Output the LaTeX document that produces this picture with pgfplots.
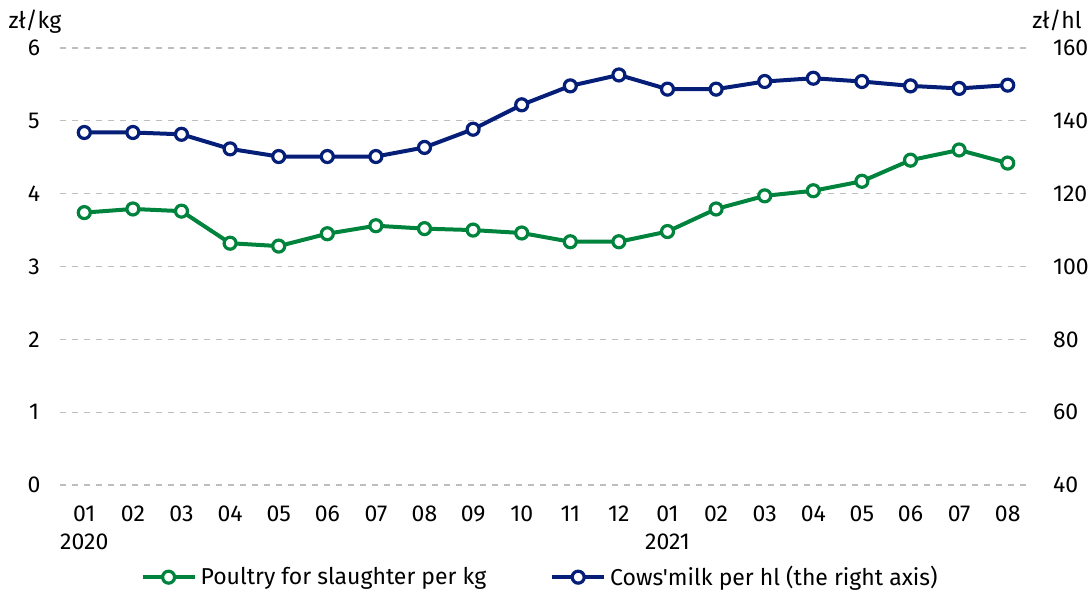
\documentclass[border=0pt]{standalone}
\usepackage{pgfplots}
\pgfplotsset{compat=1.18}
\usepackage{fontspec}
\setmainfont{Fira Sans}
\newfontfamily\plainfira{Fira Sans}
\definecolor{pgreen}{RGB}{0,132,61}
\definecolor{mblue}{RGB}{5,30,120}
\definecolor{gridgray}{RGB}{190,190,190}
\pgfplotstableread{
x poultry milk
0 3.74 136.8
1 3.79 136.8
2 3.76 136.3
3 3.32 132.3
4 3.28 130.2
5 3.45 130.2
6 3.56 130.2
7 3.52 132.7
8 3.50 137.7
9 3.46 144.4
10 3.34 149.6
11 3.34 152.6
12 3.48 148.7
13 3.79 148.7
14 3.97 150.8
15 4.04 151.7
16 4.17 150.8
17 4.46 149.6
18 4.60 148.9
19 4.42 149.8
}\datatable
\begin{document}
\begin{tikzpicture}[font=\fontsize{11.5}{14}\selectfont]
\useasboundingbox (-30pt,-53pt) rectangle (515.5pt,242.5pt);
\pgfplotsset{
  common/.style={
    width=486pt, height=218.5pt, scale only axis,
    xmin=-0.5, xmax=19.5,
    xtick={0,...,19},
    major tick length=0pt,
    clip=false,
    /pgf/number format/assume math mode=true,
    every axis plot/.append style={line width=2pt, mark=*, mark size=3pt,
      mark options={fill=white, line width=1.6pt}},
  },
}
\begin{axis}[common,
  axis y line*=left, axis x line*=bottom,
  axis line style={draw=none},
  ymin=0, ymax=6, ytick={0,...,6},
  ymajorgrids, grid style={gridgray, dashed, line width=0.6pt},
  yticklabel style={anchor=center, xshift=-13pt},
  xticklabels={{01\\2020},02,03,04,05,06,07,08,09,10,11,12,{01\\2021},02,03,04,05,06,07,08},
  xticklabel style={align=center, anchor=north, yshift=-7pt, font=\fontsize{11.5}{14}\selectfont},
  legend columns=2,
  legend style={at={(0.495,-0.166)}, anchor=north, draw=none, fill=none,
    /tikz/every even column/.append style={column sep=30pt},
    font=\fontsize{11.5}{13}\selectfont},
  legend image code/.code={
    \draw[#1, mark=none] (0pt,0pt) -- (26pt,0pt);
    \draw[#1, only marks] plot coordinates {(13pt,0pt)};
  },
]
\addplot[pgreen] table[x=x, y=poultry] {\datatable};
\addlegendentry{Poultry for slaughter per kg}
\addlegendimage{mblue, line width=2pt, mark=*, mark size=3pt, mark options={fill=white, line width=1.6pt}}
\addlegendentry{{\plainfira Cows'milk per hl (the right axis)}}
\end{axis}
\begin{axis}[common,
  axis y line*=right, axis x line=none,
  axis line style={draw=none},
  ymin=40, ymax=160, ytick={40,60,...,160},
  yticklabel style={anchor=west, xshift=7pt},
  xticklabels={},
]
\addplot[mblue] table[x=x, y=milk] {\datatable};
\end{axis}
\node[anchor=base] at (-12.5pt, 228.5pt) {zł/kg};
\node[anchor=base] at (498.5pt, 228.5pt) {zł/hl};
\end{tikzpicture}
\end{document}
